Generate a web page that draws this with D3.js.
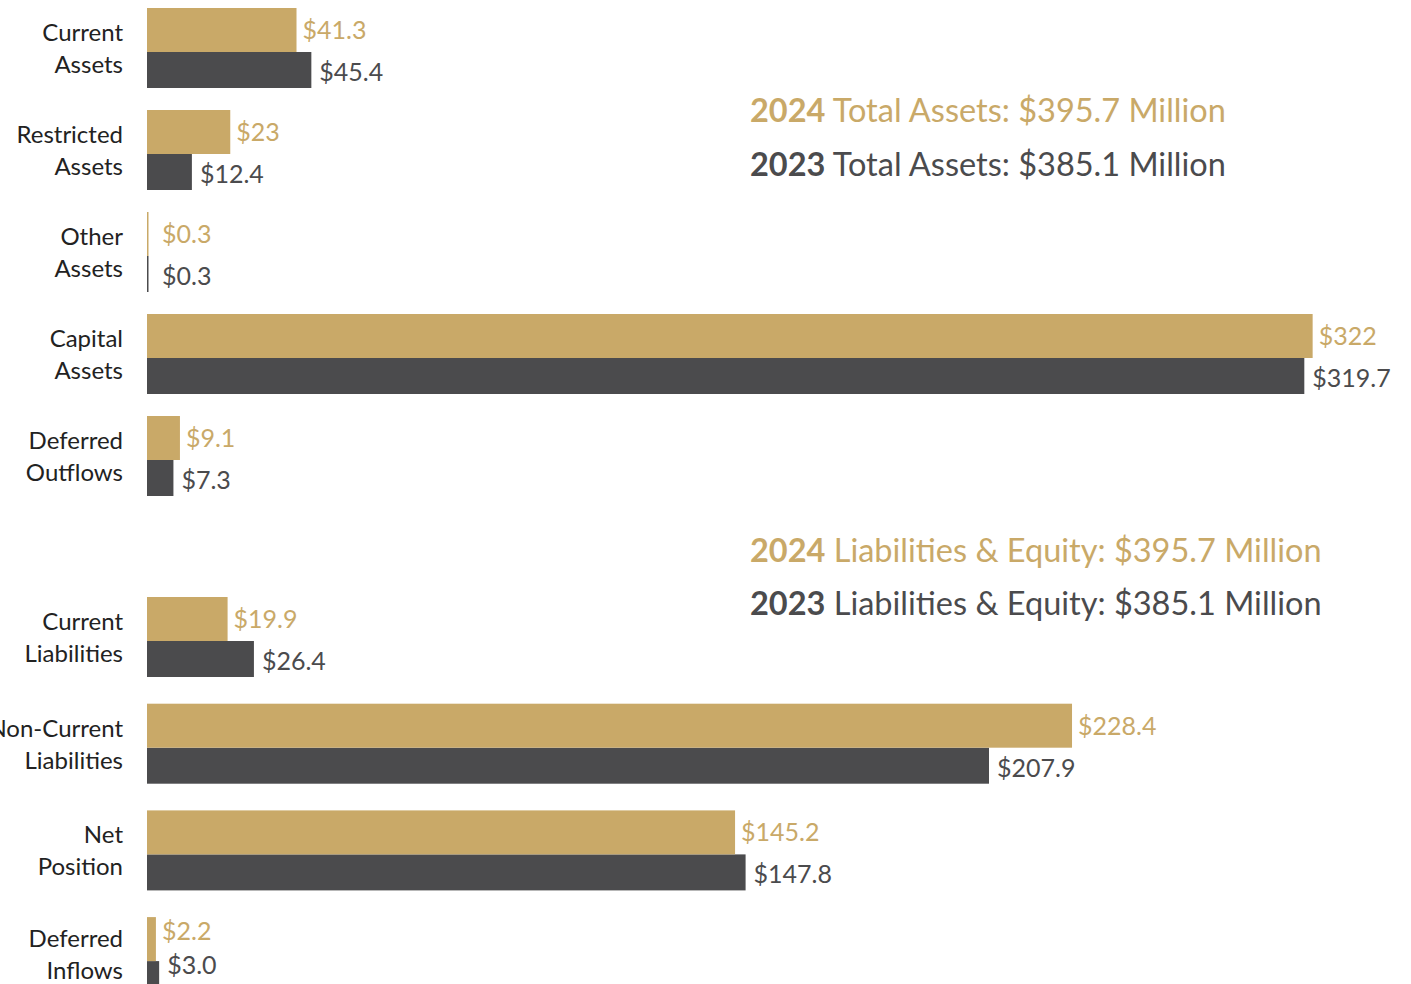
<!DOCTYPE html>
<html>
<head>
<meta charset="utf-8">
<script src="https://cdn.jsdelivr.net/npm/d3@7"></script>
<style>
  html, body { margin: 0; padding: 0; background: #ffffff; }
  svg { display: block; }
  text { font-family: Lato, "Open Sans", "Noto Sans", sans-serif; }
</style>
</head>
<body>
<svg id="chart" width="1411" height="984"></svg>
<script>
// ---- DATA ----
const assetCategories = ["Current Assets", "Restricted Assets", "Other Assets", "Capital Assets", "Deferred Outflows"];
const assets2024 = [41.3, 23, 0.3, 322, 9.1];
const assets2023 = [45.4, 12.4, 0.3, 319.7, 7.3];
const assets2024Labels = ["$41.3", "$23", "$0.3", "$322", "$9.1"];
const assets2023Labels = ["$45.4", "$12.4", "$0.3", "$319.7", "$7.3"];

const liabCategories = ["Current Liabilities", "Non-Current Liabilities", "Net Position", "Deferred Inflows"];
const liab2024 = [19.9, 228.4, 145.2, 2.2];
const liab2023 = [26.4, 207.9, 147.8, 3.0];
const liab2024Labels = ["$19.9", "$228.4", "$145.2", "$2.2"];
const liab2023Labels = ["$26.4", "$207.9", "$147.8", "$3.0"];

const years = ["2024", "2023"];
const assetTitles = ["Total Assets: $395.7 Million", "Total Assets: $385.1 Million"];
const liabTitles = ["Liabilities & Equity: $395.7 Million", "Liabilities & Equity: $385.1 Million"];

// ---- STYLE ----
const GOLD = "#C9A968";
const DARK = "#4B4B4D";
const LABEL = "#222222";
const H = 984;

const svg = d3.select("#chart");

function drawPanel(cfg) {
  const n = cfg.categories.length;
  const y = d3.scaleBand()
    .domain(cfg.categories)
    .range([cfg.y0, cfg.y0 + cfg.step * n])
    .paddingInner(0).paddingOuter(0);
  const x = d3.scaleLinear().domain(cfg.xDomain).range(cfg.xRange);
  const goldH = 44, darkH = 36;

  const rows = cfg.categories.map((c, i) => ({
    cat: c, v24: cfg.s24[i], v23: cfg.s23[i], l24: cfg.l24[i], l23: cfg.l23[i]
  }));

  const g = svg.append("g");
  const row = g.selectAll("g.row").data(rows).join("g").attr("class", "row");

  // dark (2023) bar first, gold (2024) drawn over it
  row.append("rect")
    .attr("x", x(0))
    .attr("y", d => y(d.cat) + goldH)
    .attr("width", d => Math.max(1.5, x(d.v23) - x(0)))
    .attr("height", darkH)
    .attr("fill", DARK);
  row.append("rect")
    .attr("x", x(0))
    .attr("y", d => y(d.cat))
    .attr("width", d => Math.max(1.5, x(d.v24) - x(0)))
    .attr("height", goldH)
    .attr("fill", GOLD);

  // value labels
  row.append("text")
    .attr("x", d => Math.max(x(0) + 15, x(d.v24) + 6))
    .attr("y", d => Math.min(y(d.cat) + 31, H - 44))
    .attr("fill", GOLD)
    .attr("font-size", 25)
    .text(d => d.l24);
  row.append("text")
    .attr("x", d => Math.max(x(0) + 15, x(d.v23) + 8))
    .attr("y", d => Math.min(y(d.cat) + goldH + darkH - 7, H - 10))
    .attr("fill", DARK)
    .attr("font-size", 25)
    .text(d => d.l23);

  // category labels (two lines)
  const cl = row.append("text")
    .attr("text-anchor", "end")
    .attr("fill", LABEL)
    .attr("font-size", 24);
  cl.each(function(d) {
    const idx = d.cat.lastIndexOf(" ");
    const lines = [d.cat.slice(0, idx), d.cat.slice(idx + 1)];
    d3.select(this).selectAll("tspan").data(lines).join("tspan")
      .attr("x", 123)
      .attr("y", (t, k) => Math.min(y(d.cat) + 33 + k * 32, H - 5 - (1 - k) * 32))
      .text(t => t);
  });

  // titles
  const colors = [GOLD, DARK];
  cfg.titles.forEach((t, i) => {
    const tt = svg.append("text")
      .attr("x", 750)
      .attr("y", cfg.titleY[i])
      .attr("fill", colors[i])
      .attr("font-size", 32.5);
    tt.append("tspan").attr("font-weight", 700).text(years[i]);
    tt.append("tspan").text(" " + t);
  });
}

drawPanel({
  categories: assetCategories, s24: assets2024, s23: assets2023,
  l24: assets2024Labels, l23: assets2023Labels,
  y0: 8, step: 102,
  xDomain: [0, 330], xRange: [147, 147 + 330 * 3.62],
  titles: assetTitles, titleY: [122, 176]
});

drawPanel({
  categories: liabCategories, s24: liab2024, s23: liab2023,
  l24: liab2024Labels, l23: liab2023Labels,
  y0: 597, step: 106.7,
  xDomain: [0, 250], xRange: [147, 147 + 250 * 4.05],
  titles: liabTitles, titleY: [562, 615]
});
</script>
</body>
</html>
